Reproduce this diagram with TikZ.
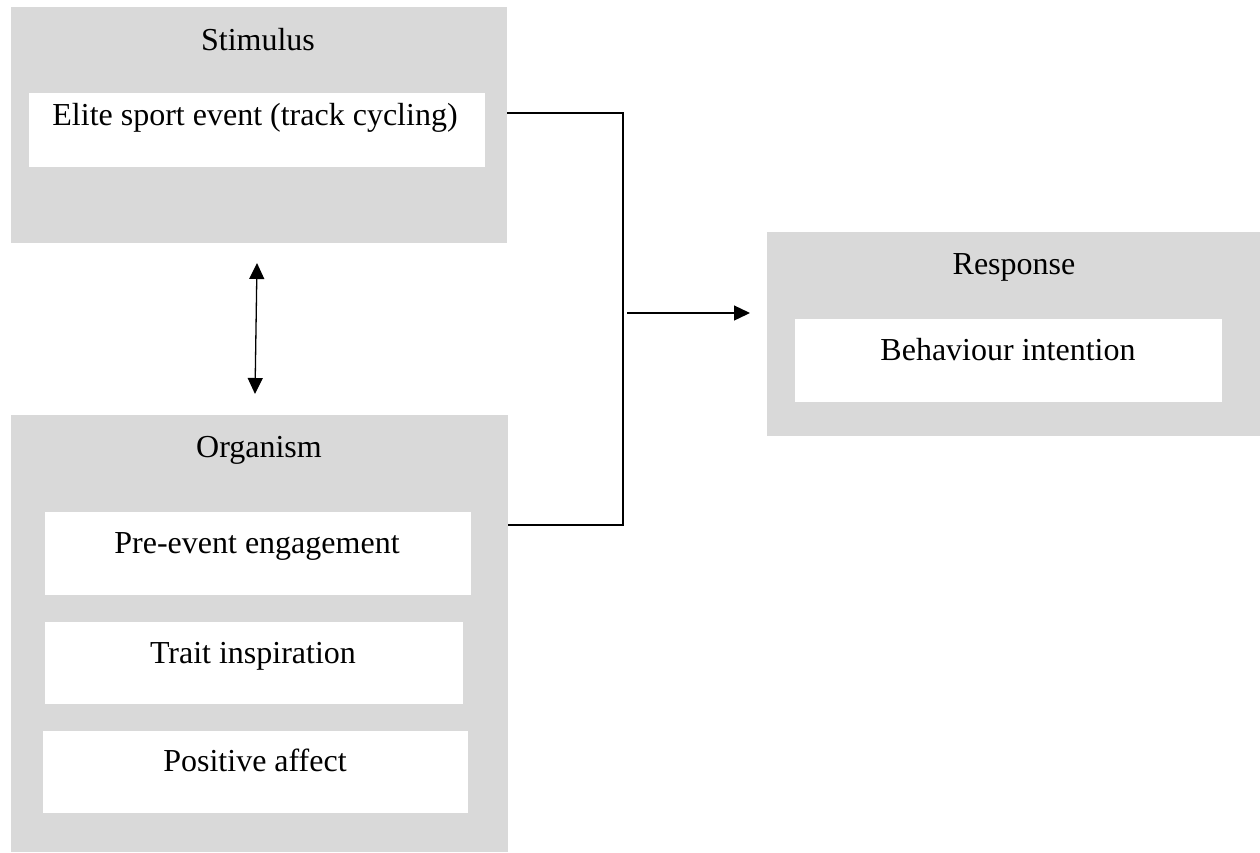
\documentclass[tikz,border=0pt]{standalone}
\usepackage{fontspec}
\setmainfont{Liberation Serif}
\usetikzlibrary{arrows.meta}
\definecolor{panelgray}{HTML}{D9D9D9}
\tikzset{
  panel/.style={fill=panelgray, draw=none, inner sep=0pt, anchor=north west},
  itembox/.style={fill=white, draw=none, inner sep=0pt, anchor=north west},
  caption/.style={anchor=base, inner sep=0pt, font=\fontsize{32}{38}\selectfont},
  link/.style={line width=1.3pt, black},
  tip/.style={-{Triangle[length=16pt,width=15pt]}},
}
\begin{document}
\begin{tikzpicture}[x=1pt, y=-1pt]
\useasboundingbox (0,0) rectangle (1260,852);

% Stimulus panel
\node[panel, minimum width=496pt, minimum height=236pt] (stim) at (11,7) {};
\node[itembox, minimum width=456pt, minimum height=74pt] (stimitem) at (29,93) {};
\node[caption] (stimtitle) at (258,50) {Stimulus};
\node[caption] (stimtext) at (255,125) {Elite sport event (track cycling)};

% Organism panel
\node[panel, minimum width=497pt, minimum height=437pt] (org) at (11,415) {};
\node[itembox, minimum width=426pt, minimum height=83pt] (orgitemA) at (45,512) {};
\node[itembox, minimum width=418pt, minimum height=82pt] (orgitemB) at (45,622) {};
\node[itembox, minimum width=425pt, minimum height=82pt] (orgitemC) at (43,731) {};
\node[caption] (orgtitle) at (259,457) {Organism};
\node[caption] (orgtextA) at (257,553) {Pre-event engagement};
\node[caption] (orgtextB) at (253,663) {Trait inspiration};
\node[caption] (orgtextC) at (255,771) {Positive affect};

% Response panel
\node[panel, minimum width=493pt, minimum height=204pt] (resp) at (767,232) {};
\node[itembox, minimum width=427pt, minimum height=83pt] (respitem) at (795,319) {};
\node[caption] (resptitle) at (1014,274) {Response};
\node[caption] (resptext) at (1008,360) {Behaviour intention};

% Two-way link between stimulus and organism
\coordinate (biTop) at (257,263);
\coordinate (biBot) at (255,394);
\draw[link, {Triangle[length=16pt,width=15pt]}-{Triangle[length=16pt,width=15pt]}] (biTop) -- (biBot);

% Bracket joining stimulus and organism, arrow to response
\coordinate (jTop) at (623,113);
\coordinate (jBot) at (623,525);
\coordinate (jOut) at (627,313);
\coordinate (jEnd) at (750,313);
\draw[link] (stim.east |- jTop) -- (jTop) -- (jBot) -- (org.east |- jBot);
\draw[link, tip] (jOut) -- (jEnd);
\end{tikzpicture}
\end{document}
